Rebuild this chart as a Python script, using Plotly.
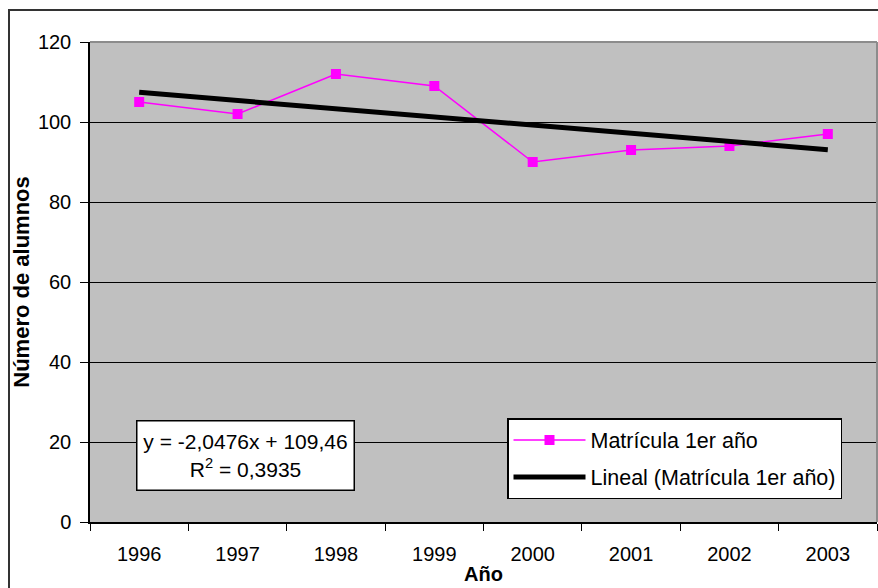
import numpy as np
import plotly.graph_objects as go

# Enrolment data
years = ["1996", "1997", "1998", "1999", "2000", "2001", "2002", "2003"]
matricula = [105, 102, 112, 109, 90, 93, 94, 97]
y_ticks = [0, 20, 40, 60, 80, 100, 120]

series_name = "Matrícula 1er año"
trend_name = "Lineal (Matrícula 1er año)"

# Linear trend on x = 1..n (spreadsheet style)
xn = np.arange(1, len(matricula) + 1)
slope, intercept = np.polyfit(xn, matricula, 1)
fitted = slope * xn + intercept
ss_res = np.sum((np.array(matricula) - fitted) ** 2)
ss_tot = np.sum((np.array(matricula) - np.mean(matricula)) ** 2)
r2 = 1 - ss_res / ss_tot


def es(v, d):
    return f"{v:.{d}f}".replace(".", ",")


sign = "+" if intercept >= 0 else "-"
eq_text = (f"y = {es(slope, 4)}x {sign} {es(abs(intercept), 2)}<br>"
           f"R<sup>2</sup> = {es(r2, 4)}")

FONT = "Liberation Sans, Arial, sans-serif"
PL, PR, PT, PB = 90, 877, 42, 522
W, H = 878, 588

def px_x(x):
    return (x - PL) / (PR - PL)

def px_y(y):
    return (PB - y) / (PB - PT)

fig = go.Figure()
fig.add_trace(go.Scatter(
    x=years, y=matricula, name=series_name, mode="lines+markers",
    legendgroup="a",
    line=dict(color="#FF00FF", width=1.5),
    marker=dict(symbol="square", size=10, color="#FF00FF"),
))
fig.add_trace(go.Scatter(
    x=years, y=fitted, name=trend_name, mode="lines",
    legendgroup="b",
    line=dict(color="black", width=5),
))

fig.update_layout(
    width=W, height=H,
    margin=dict(l=PL, r=W - PR, t=PT, b=H - PB),
    paper_bgcolor="white",
    plot_bgcolor="#C0C0C0",
    font=dict(family=FONT, size=20, color="black"),
    legend=dict(
        x=px_x(507), y=px_y(418), xanchor="left", yanchor="top",
        bgcolor="white", bordercolor="black", borderwidth=1.5,
        font=dict(size=21.5), itemwidth=72, tracegroupgap=6,
    ),
    xaxis=dict(
        type="category", range=[-0.5, len(years) - 0.5],
        tickson="boundaries", ticks="outside", ticklen=7, tickcolor="black",
        showline=True, linecolor="black", linewidth=1.5,
        showgrid=False, ticklabelstandoff=13,
        title=dict(text="<b>Año</b>", standoff=3, font=dict(size=20)),
    ),
    yaxis=dict(
        range=[0, 120], tickvals=y_ticks, ticks="outside", ticklen=8,
        tickcolor="black", showline=True, linecolor="black", linewidth=1.5,
        showgrid=True, gridcolor="black", gridwidth=1, zeroline=False,
        ticklabelstandoff=5,
        title=dict(text="<b>Número de alumnos</b>", standoff=2, font=dict(size=22)),
    ),
    shapes=[
        # plot-area border (top and right)
        dict(type="line", xref="paper", yref="paper", x0=0, x1=1, y0=1, y1=1,
             line=dict(color="#8C8C8C", width=2), layer="above"),
        dict(type="line", xref="paper", yref="paper", x0=1, x1=1, y0=0, y1=1,
             line=dict(color="#8C8C8C", width=2), layer="above"),
        # chart-area border
        dict(type="rect", xref="paper", yref="paper",
             x0=px_x(9), x1=px_x(W + 10), y0=px_y(H + 10), y1=px_y(10),
             line=dict(color="#333333", width=2), layer="above"),
    ],
    annotations=[
        dict(text=eq_text, xref="paper", yref="paper",
             x=px_x(245), y=px_y(455), xanchor="center", yanchor="middle",
             showarrow=False, align="center", bgcolor="white",
             bordercolor="black", borderwidth=1.5, width=214, height=66,
             font=dict(size=21)),
    ],
)

fig.write_html("out.html")
